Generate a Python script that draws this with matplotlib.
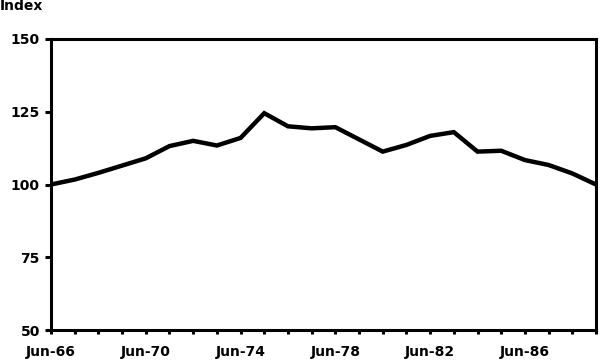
import matplotlib
matplotlib.use("Agg")
import matplotlib.pyplot as plt

years = list(range(1966, 1990))
values = [100, 101.7, 104, 106.5, 109, 113.2, 115, 113.4, 116, 124.5,
          120, 119.3, 119.7, 115.5, 111.3, 113.6, 116.7, 118, 111.3, 111.6,
          108.4, 106.7, 103.8, 100]
label_years = [1966, 1970, 1974, 1978, 1982, 1986]
x_labels = ["Jun-66", "Jun-70", "Jun-74", "Jun-78", "Jun-82", "Jun-86"]
y_ticks = [50, 75, 100, 125, 150]
y_labels = ["50", "75", "100", "125", "150"]

plt.rcParams['font.family'] = ['DejaVu Sans']

fig = plt.figure(figsize=(6, 3.61), dpi=100)
ax = fig.add_axes([51/600, 31/361, 545/600, 291/361])
ax.plot(years, values, color='black', lw=3.2, solid_joinstyle='miter')
ax.set_xlim(1966, 1989)
ax.set_ylim(50, 150)
ax.set_xticks(label_years)
ax.set_xticklabels(x_labels)
ax.set_xticks(years, minor=True)
ax.set_yticks(y_ticks)
ax.set_yticklabels(y_labels)
for s in ax.spines.values():
    s.set_linewidth(2.2)
ax.tick_params(axis='x', which='both', direction='out', length=3, width=2.2,
               labelsize=10, pad=8)
ax.tick_params(axis='y', direction='out', length=4, width=2.2, labelsize=10, pad=4)
for t in ax.get_xticklabels() + ax.get_yticklabels():
    t.set_fontweight('bold')
fig.text(0.0, 0.982, "Index", fontsize=10, fontweight='bold', va='center', ha='left')
fig.savefig("out.png", dpi=100)
